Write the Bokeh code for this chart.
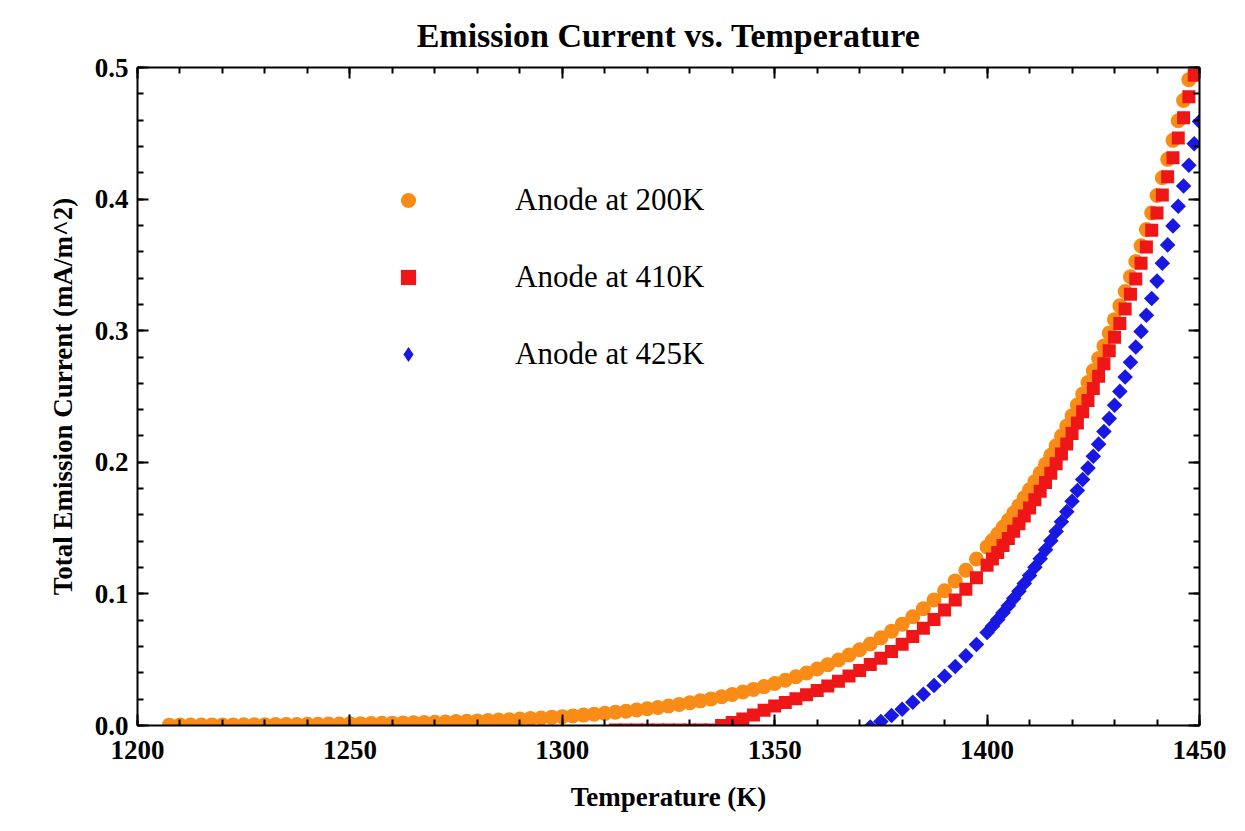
import numpy as np
from bokeh.plotting import figure
from bokeh.models import (Range1d, LinearAxis, SingleIntervalTicker, PrintfTickFormatter,
                          Legend, LegendItem, CustomLabelingPolicy)
from bokeh.embed import file_html
from bokeh.resources import INLINE

# ---------------- data ----------------
temps = [
    1207.5, 1210.0, 1212.5, 1215.0, 1217.5, 1220.0, 1222.5, 1225.0, 1227.5, 1230.0,
    1232.5, 1235.0, 1237.5, 1240.0, 1242.5, 1245.0, 1247.5, 1250.0, 1252.5, 1255.0,
    1257.5, 1260.0, 1262.5, 1265.0, 1267.5, 1270.0, 1272.5, 1275.0, 1277.5, 1280.0,
    1282.5, 1285.0, 1287.5, 1290.0, 1292.5, 1295.0, 1297.5, 1300.0, 1302.5, 1305.0,
    1307.5, 1310.0, 1312.5, 1315.0, 1317.5, 1320.0, 1322.5, 1325.0, 1327.5, 1330.0,
    1332.5, 1335.0, 1337.5, 1340.0, 1342.5, 1345.0, 1347.5, 1350.0, 1352.5, 1355.0,
    1357.5, 1360.0, 1362.5, 1365.0, 1367.5, 1370.0, 1372.5, 1375.0, 1377.5, 1380.0,
    1382.5, 1385.0, 1387.5, 1390.0, 1392.5, 1395.0, 1397.5,
    1400.0, 1401.25, 1402.5, 1403.75, 1405.0, 1406.25, 1407.5, 1408.75, 1410.0, 1411.25,
    1412.5, 1413.75, 1415.0, 1416.25, 1417.5, 1418.75, 1420.0, 1421.25, 1422.5, 1423.75,
    1425.0, 1426.25, 1427.5, 1428.75, 1430.0, 1431.25, 1432.5, 1433.75, 1435.0, 1436.25,
    1437.5, 1438.75, 1440.0, 1441.25, 1442.5, 1443.75, 1445.0, 1446.25, 1447.5, 1448.75,
    1450.0,
]

current_200K = [
    0.00027, 0.00030, 0.00033, 0.00036, 0.00039, 0.00043, 0.00047, 0.00052, 0.00056, 0.00062,
    0.00068, 0.00074, 0.00081, 0.00088, 0.00096, 0.00105, 0.00115, 0.00125, 0.00137, 0.00149,
    0.00163, 0.00177, 0.00193, 0.00210, 0.00229, 0.00249, 0.00271, 0.00295, 0.00321, 0.00349,
    0.00379, 0.00411, 0.00446, 0.00485, 0.00526, 0.00571, 0.00619, 0.00672, 0.00728, 0.00789,
    0.00854, 0.00925, 0.01002, 0.01084, 0.01173, 0.01270, 0.01372, 0.01484, 0.01602, 0.01732,
    0.01872, 0.02020, 0.02182, 0.02355, 0.02541, 0.02742, 0.02956, 0.03188, 0.03435, 0.03702,
    0.03986, 0.04294, 0.04622, 0.04975, 0.05352, 0.05760, 0.06193, 0.06659, 0.07157, 0.07694,
    0.08265, 0.08880, 0.09535, 0.10239, 0.10988, 0.11792, 0.12649,
    0.13570, 0.14050, 0.14546, 0.15062, 0.15594, 0.16143, 0.16710, 0.17297, 0.17905, 0.18530,
    0.19177, 0.19847, 0.20541, 0.21251, 0.21989, 0.22751, 0.23540, 0.24350, 0.25192, 0.26058,
    0.26958, 0.27880, 0.28834, 0.29820, 0.30840, 0.31888, 0.32976, 0.34098, 0.35257, 0.36448,
    0.37681, 0.38953, 0.40269, 0.41622, 0.43020, 0.44464, 0.45957, 0.47497, 0.49076, 0.50710,
    0.52400,
]

current_410K = [
    -0.0035, -0.0035, -0.0035, -0.0035, -0.0035, -0.0035, -0.0035, -0.0035, -0.0035, -0.0035,
    0.00000, 0.00225, 0.00491, 0.00792, 0.01156, 0.01488, 0.01750, 0.02032, 0.02331, 0.02654,
    0.02997, 0.03365, 0.03757, 0.04180, 0.04628, 0.05109, 0.05622, 0.06174, 0.06760, 0.07390,
    0.08060, 0.08779, 0.09543, 0.10362, 0.11234,
    0.12170, 0.12652, 0.13151, 0.13669, 0.14204, 0.14755, 0.15325, 0.15914, 0.16525, 0.17152,
    0.17802, 0.18474, 0.19171, 0.19883, 0.20624, 0.21388, 0.22180, 0.22992, 0.23837, 0.24705,
    0.25608, 0.26532, 0.27489, 0.28477, 0.29500, 0.30550, 0.31641, 0.32765, 0.33927, 0.35120,
    0.36356, 0.37630, 0.38949, 0.40304, 0.41705, 0.43151, 0.44647, 0.46189, 0.47771, 0.49407,
    0.51100,
]

current_425K = [
    -0.0011, 0.0031, 0.0076, 0.0124, 0.01765, 0.0238, 0.03035, 0.03739, 0.04488, 0.05292,
    0.06149,
    0.0707, 0.0755, 0.08046, 0.08562, 0.09094, 0.09643, 0.1021, 0.10797, 0.11405, 0.1203,
    0.12677, 0.13347, 0.14041, 0.14751, 0.15489, 0.16251, 0.1704, 0.1785, 0.18692, 0.19558,
    0.20458, 0.2138, 0.22334, 0.2332, 0.2434, 0.25388, 0.26476, 0.27598, 0.28757, 0.29948,
    0.31181, 0.32453, 0.33769, 0.35122, 0.3652, 0.37964, 0.39457, 0.40997, 0.42576, 0.4421,
    0.459,
]

T_200K = temps
T_410K = temps[42:]
T_425K = temps[66:]

series_labels = ["Anode at 200K", "Anode at 410K", "Anode at 425K"]
series_colors = ["#F98C16", "#EE1616", "#1818E2"]

# ---------------- figure ----------------
FONT = "Liberation Serif"

p = figure(width=1229, height=815,
           x_range=Range1d(1200, 1450), y_range=Range1d(0, 0.5),
           output_backend="svg", toolbar_location=None,
           min_border_left=137, min_border_right=30,
           min_border_top=67, min_border_bottom=90)
p.background_fill_color = "white"
p.border_fill_color = "white"
p.outline_line_color = None
p.grid.visible = False

p.title.text = "Emission Current vs. Temperature"
p.title.align = "center"
p.title.text_font = FONT
p.title.text_font_style = "bold"
p.title.text_font_size = "34px"
p.title.text_color = "black"
p.title.standoff = 27

r1 = p.scatter(T_200K, current_200K, marker="circle", size=15,
               fill_color=series_colors[0], line_color=None)
r2 = p.scatter(T_410K, current_410K, marker="square", size=13,
               fill_color=series_colors[1], line_color=None)
r3 = p.scatter(T_425K, current_425K, marker="square", size=11, angle=np.pi / 4,
               fill_color=series_colors[2], line_color=None)
# legend swatch for the diamond series (a single NaN point, never drawn in the plot)
r3_key = p.scatter([float("nan")], [float("nan")], marker="diamond", size=15,
                   fill_color=series_colors[2], line_color=None)

no_labels = CustomLabelingPolicy(code="return []")


def style(ax, labels=True):
    ax.axis_line_width = 2
    ax.axis_line_color = "black"
    ax.major_tick_in = 11
    ax.major_tick_out = 0
    ax.minor_tick_in = 6
    ax.minor_tick_out = 0
    ax.major_tick_line_width = 2
    ax.minor_tick_line_width = 2
    ax.major_tick_line_color = "black"
    ax.minor_tick_line_color = "black"
    ax.major_label_text_font = FONT
    ax.major_label_text_font_style = "bold"
    ax.major_label_text_color = "black"
    if labels:
        ax.major_label_text_font_size = "27px"
    else:
        ax.major_label_text_font_size = "0px"
        ax.major_label_policy = no_labels
        ax.major_label_standoff = 0
    ax.axis_label_text_font = FONT
    ax.axis_label_text_font_style = "bold"
    ax.axis_label_text_font_size = "27px"
    ax.axis_label_text_color = "black"


xa = p.xaxis[0]
xa.ticker = SingleIntervalTicker(interval=50, num_minor_ticks=5)
style(xa)
xa.major_label_standoff = 15
xa.axis_label = "Temperature (K)"
xa.axis_label_standoff = 20

ya = p.yaxis[0]
ya.ticker = SingleIntervalTicker(interval=0.1, num_minor_ticks=5)
ya.formatter = PrintfTickFormatter(format="%.1f")
style(ya)
ya.major_label_standoff = 9
ya.axis_label = "Total Emission Current (mA/m^2)"
ya.axis_label_standoff = 14

top_ax = LinearAxis(ticker=SingleIntervalTicker(interval=50, num_minor_ticks=5))
style(top_ax, labels=False)
p.add_layout(top_ax, "above")

right_ax = LinearAxis(ticker=SingleIntervalTicker(interval=0.1, num_minor_ticks=5))
style(right_ax, labels=False)
p.add_layout(right_ax, "right")

legend = Legend(items=[LegendItem(label=series_labels[0], renderers=[r1]),
                       LegendItem(label=series_labels[1], renderers=[r2]),
                       LegendItem(label=series_labels[2], renderers=[r3_key])],
                location=(252, 352))
legend.label_text_font = FONT
legend.label_text_font_size = "31px"
legend.label_text_color = "black"
legend.glyph_width = 38
legend.glyph_height = 38
legend.label_height = 38
legend.spacing = 39
legend.label_standoff = 88
legend.padding = 0
legend.margin = 0
legend.border_line_color = None
legend.background_fill_alpha = 0
p.add_layout(legend)

open("out.html", "w").write(file_html(p, INLINE))
